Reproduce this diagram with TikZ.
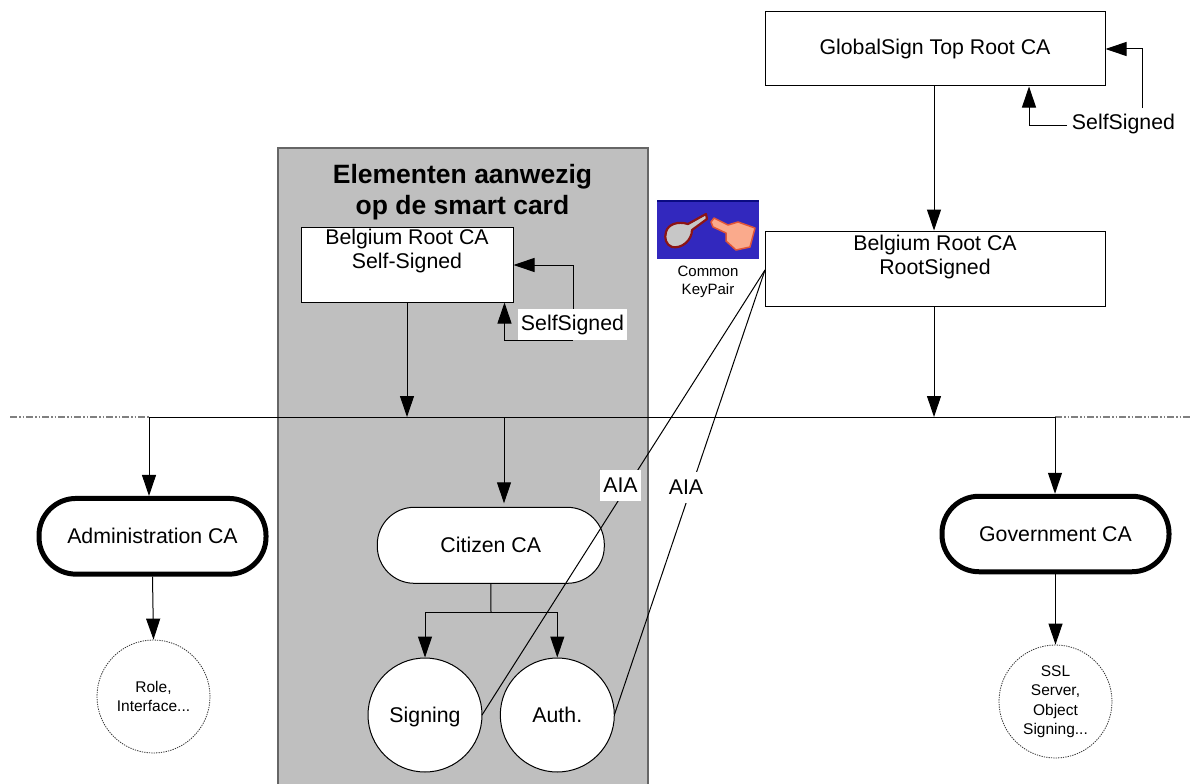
\documentclass[tikz,border=0pt]{standalone}
\usepackage{fontspec}
\setmainfont{Liberation Sans}
\usetikzlibrary{arrows.meta,calc}
\newcommand{\bodyfont}{\fontsize{21.3}{23.5}\selectfont}
\tikzset{
  x=1pt,y=-1pt,
  wire/.style={line width=1pt,draw=black},
  arr/.style={wire,-{Triangle[length=21pt,width=14pt]}},
  box/.style={draw=black,line width=1pt,fill=white,inner sep=0pt,align=center,font=\bodyfont},
  pillthin/.style={box,rounded corners=37pt},
  pillthick/.style={box,line width=5pt,rounded corners=37pt},
  disc/.style={box,circle,minimum size=114pt,text height=16pt,text depth=2pt},
  dotdisc/.style={draw=black!80,line width=0.8pt,dash pattern=on 1.3pt off 1.1pt,circle,fill=white,inner sep=0pt,minimum size=113pt,align=center,font=\fontsize{15.5}{19.5}\selectfont},
  lab/.style={fill=white,inner sep=0pt,font=\bodyfont},
  dashline/.style={line width=1.3pt,draw=black!50,dash pattern=on 7pt off 2pt on 1.5pt off 2pt on 1.5pt off 2pt},
}
\begin{document}
\begin{tikzpicture}
\useasboundingbox (0,0) rectangle (1192,784);
\fill[white] (0,0) rectangle (1192,784);
% panel
\filldraw[fill=black!25,draw=black!60,line width=1.3pt] (278,148) rectangle (648,790);
\node[font=\fontsize{26.5}{31}\selectfont\bfseries,align=center,inner sep=0pt] (paneltitle) at (462.5,192) {Elementen aanwezig\\op de smart card};
% horizontal line
\coordinate (hl) at (10,417);
\coordinate (hm) at (149,417);
\coordinate (hn) at (1055,417);
\coordinate (hr) at (1192,417);
\draw[dashline] (hl)--(hm);
\draw[dashline] (hn)--(hr);
\draw[wire] (hm)--(hn);
% boxes
\node[box,minimum width=340pt,minimum height=74pt] (gs) at (935,49) {GlobalSign Top Root CA};
\node[box,minimum width=340pt,minimum height=75pt] (be) at (935,268.5) {};
\node[font=\bodyfont,align=center,inner sep=0pt] (betxt) at (935,257) {Belgium Root CA\\RootSigned};
\node[box,minimum width=212pt,minimum height=75pt] (ss) at (407,264.5) {};
\node[font=\bodyfont,align=center,inner sep=0pt] (sstxt) at (407,251) {Belgium Root CA\\Self-Signed};
% pills
\node[pillthick,minimum width=227pt,minimum height=75.7pt] (adm) at (152.5,536.3) {Administration CA};
\node[pillthick,minimum width=227pt,minimum height=75.5pt] (gov) at (1055.5,534) {Government CA};
\node[pillthin,minimum width=227pt,minimum height=76pt] (cit) at (490.8,545.3) {Citizen CA};
% circles
\node[disc] (sig) at (425,715) {Signing};
\node[disc] (aut) at (557.3,715) {Auth.};
\node[dotdisc] (role) at (153.5,696.5) {Role,\\Interface...};
\node[dotdisc] (ssl) at (1055.5,701.5) {SSL\\Server,\\Object\\Signing...};
% icon
\fill[fill={rgb,255:red,50;green,40;blue,190}] (657,200) rectangle (759,259);
\fill[fill={rgb,255:red,10;green,10;blue,130}] (657,200) rectangle (759,202);
\filldraw[fill=black!22,draw={rgb,255:red,140;green,20;blue,20},line width=2.2pt,line join=round] (666,232) .. controls (668,224) and (678,221) .. (688,224) -- (706,214) -- (707,219) -- (692,230) .. controls (692,240) and (682,249) .. (672,247) .. controls (666,245) and (664,238) .. (666,232) -- cycle;
\filldraw[fill={rgb,255:red,250;green,170;blue,140},draw={rgb,255:red,225;green,85;blue,55},line width=1.5pt,line join=round] (711,222) -- (714,218) -- (728,225) -- (738,222) -- (755,228) -- (750,247) -- (736,250) -- (726,241) -- (726,233) -- (713,227) -- cycle;
\node[font=\fontsize{15}{18}\selectfont,align=center,inner sep=0pt] (ckp) at (708,282) {Common\\KeyPair};
% vertical arrows
\coordinate (a1) at (934,417);
\coordinate (a2) at (407,417);
\coordinate (a3) at (504,417);
\draw[arr] (gs.south -| a1)--(be.north -| a1);
\draw[arr] (be.south -| a1)--(a1);
\draw[arr] (ss.south -| a2)--(a2);
\draw[arr,shorten >=3.5pt] (a3)--(cit.north -| a3);
\draw[arr] (hm)--(adm.north -| hm);
\draw[arr] (hn)--(gov.north -| hn);
\draw[arr] (adm.south)--(role.north);
\draw[arr] (gov.south)--(ssl.north);
% citizen branch
\coordinate (br) at (491,612);
\draw[wire] (cit.south)--(br);
\draw[arr] (br)-|(sig.north);
\draw[arr] (br)-|(aut.north);
% self signed loops
\coordinate (l1) at (1142,49);
\coordinate (l2) at (1029,125);
\node[lab] (ssa) at (1123.5,124) {SelfSigned};
\draw[arr] (1142,108)--(l1)--(gs.east |- l1);
\draw[arr] (1067,125)--(l2)--(gs.south -| l2);
\coordinate (m1) at (573,265);
\coordinate (m2) at (504.5,340);
\draw[arr] (573,340)--(m2)--(ss.south -| m2);
\draw[arr] (573,309)--(m1)--(ss.east |- m1);
\node[lab,minimum width=109pt,minimum height=31pt] (ssb) at (572.5,324.5) {SelfSigned};
% AIA
\coordinate (o) at (765,270);
\draw[wire] (o)--($(sig.center)+(57,0)$);
\draw[wire] (o)--($(aut.center)+(57,0)$);
\node[lab,minimum width=41pt,minimum height=31pt] (aia1) at (620.5,485.5) {AIA};
\node[lab,minimum width=36pt,minimum height=31pt] (aia2) at (686,487.5) {AIA};
\end{tikzpicture}
\end{document}
